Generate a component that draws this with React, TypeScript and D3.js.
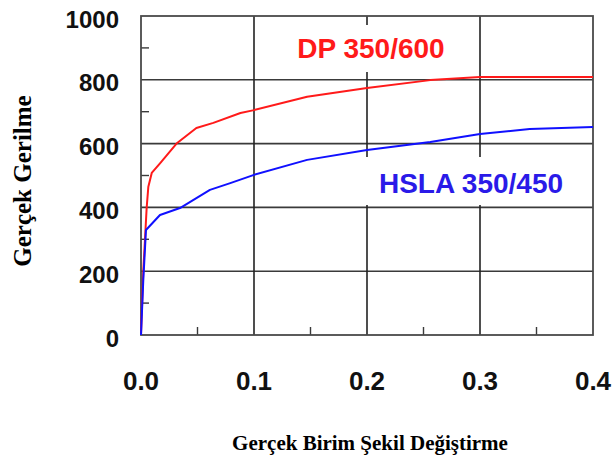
import React from "react";
import * as d3 from "d3";

// strain (x) / stress (y)
const dpStrain = [0, 0.002, 0.0035, 0.005, 0.0065, 0.0095, 0.017, 0.032, 0.049, 0.064, 0.088, 0.1, 0.147, 0.2, 0.256, 0.3, 0.4];
const dpStress = [0, 200, 298, 398, 465, 508, 539, 602, 649, 665, 696, 705, 747, 774, 799, 809, 809];

const hslaStrain = [0, 0.002, 0.0044, 0.0168, 0.0345, 0.061, 0.079, 0.1, 0.147, 0.2, 0.256, 0.3, 0.344, 0.4];
const hslaStress = [0, 170, 329, 376, 398, 455, 476, 502, 549, 580, 605, 630, 646, 652];

const xTicks = [0, 0.1, 0.2, 0.3, 0.4];
const xMinor = [0.05, 0.15, 0.25, 0.35];
const yTicks = [0, 200, 400, 600, 800, 1000];
const yMinor = [100, 300, 500, 700, 900];

const W = 613;
const H = 459;
const margin = { top: 16, right: 20, bottom: 124, left: 141 };

const App = () => {
  const x = d3.scaleLinear().domain([0, 0.4]).range([margin.left, W - margin.right]);
  const y = d3.scaleLinear().domain([0, 1000]).range([H - margin.bottom, margin.top]);

  const line = d3.line<[number, number]>()
    .x(d => x(d[0]))
    .y(d => y(d[1]));

  const dp = dpStrain.map((s, i) => [s, dpStress[i]] as [number, number]);
  const hsla = hslaStrain.map((s, i) => [s, hslaStress[i]] as [number, number]);

  const grid = "#3a3a3a";
  const x0 = x(0), x1 = x(0.4), y0 = y(0), y1 = y(1000);

  return (
    <svg width={W} height={H} style={{ position: "absolute", left: 0, top: 0, background: "#fff" }}>
      {/* grid */}
      {yTicks.slice(1, -1).map(t => (
        <line key={"gy" + t} x1={x0} x2={x1} y1={y(t)} y2={y(t)} stroke={grid} strokeWidth={1.6} />
      ))}
      {xTicks.slice(1, -1).map(t => (
        <line key={"gx" + t} x1={x(t)} x2={x(t)} y1={y1} y2={y0} stroke="#222" strokeWidth={1.6} />
      ))}
      {/* minor ticks */}
      {yMinor.map(t => (
        <line key={"my" + t} x1={x0} x2={x0 + 8} y1={y(t)} y2={y(t)} stroke={grid} strokeWidth={1.4} />
      ))}
      {xMinor.map(t => (
        <line key={"mx" + t} x1={x(t)} x2={x(t)} y1={y0} y2={y0 - 8} stroke={grid} strokeWidth={1.4} />
      ))}
      {/* label backgrounds cut the grid */}
      <rect x={285} y={25} width={170} height={47} fill="#fff" />
      <rect x={362} y={157} width={218} height={48} fill="#fff" />
      <rect x={x0} y={y1} width={x1 - x0} height={y0 - y1} fill="none" stroke="#4a4a4a" strokeWidth={1.8} />

      {/* curves */}
      <path d={line(dp) || ""} fill="none" stroke="#ff1a1a" strokeWidth={2} strokeLinejoin="round" />
      <path d={line(hsla) || ""} fill="none" stroke="#1010ff" strokeWidth={2} strokeLinejoin="round" />

      <text x={371} y={58} textAnchor="middle" fill="#ff1a1a" fontFamily="Liberation Sans, Arial, sans-serif" fontWeight="bold" fontSize={28}>DP 350/600</text>
      <text x={471} y={193} textAnchor="middle" fill="#2a1ae8" fontFamily="Liberation Sans, Arial, sans-serif" fontWeight="bold" fontSize={28}>HSLA 350/450</text>

      {/* tick labels */}
      {yTicks.map(t => (
        <text key={"ly" + t} x={119} y={y(t) + 11.5} textAnchor="end" fontFamily="Liberation Sans, Arial, sans-serif" fontWeight="bold" fontSize={24} fill="#111">{t}</text>
      ))}
      {xTicks.map(t => (
        <text key={"lx" + t} x={x(t)} y={390} textAnchor="middle" fontFamily="Liberation Sans, Arial, sans-serif" fontWeight="bold" fontSize={26} fill="#111">{t.toFixed(1)}</text>
      ))}

      {/* axis titles */}
      <text x={370} y={450} textAnchor="middle" fontFamily="Liberation Serif, Times New Roman, serif" fontWeight="bold" fontSize={21} fill="#000">Gerçek Birim Şekil Değiştirme</text>
      <text transform="translate(31,181) rotate(-90)" textAnchor="middle" fontFamily="Liberation Serif, Times New Roman, serif" fontWeight="bold" fontSize={25} fill="#000">Gerçek Gerilme</text>
    </svg>
  );
};

export default App;
